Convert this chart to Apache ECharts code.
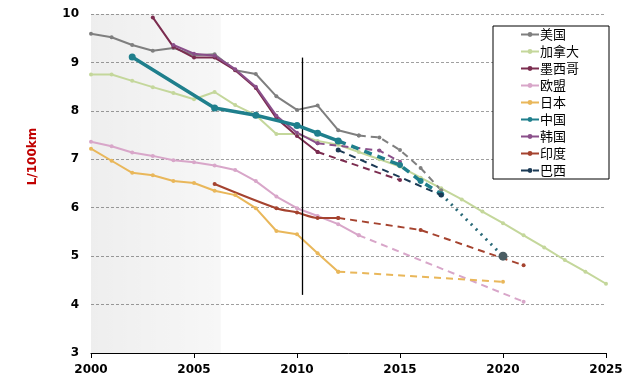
<!DOCTYPE html>
<html><head><meta charset="utf-8">
<script src="https://cdn.jsdelivr.net/npm/echarts@6/dist/echarts.min.js"></script>
<style>html,body{margin:0;padding:0;background:#fff}#c{width:631px;height:389px}</style>
</head><body><div id="c"></div>
<script>
// ---- data ----
const xTicks = [2000, 2005, 2010, 2015, 2020, 2025];
const usSolid = [[2000,9.59],[2001,9.52],[2002,9.36],[2003,9.24],[2004,9.30],[2005,9.15],[2006,9.17],[2007,8.84],[2008,8.76],[2009,8.30],[2010,8.02],[2011,8.11],[2012,7.60],[2013,7.49]];
const usDash = [[2013,7.49],[2014,7.45],[2015,7.19],[2016,6.82],[2017,6.36]];
const canada = [[2000,8.75],[2001,8.75],[2002,8.62],[2003,8.49],[2004,8.37],[2005,8.24],[2006,8.39],[2007,8.12],[2008,7.91],[2009,7.52],[2010,7.52],[2011,7.38],[2012,7.30],[2013,7.15],[2014,7.00],[2015,6.85],[2016,6.62],[2017,6.40],[2018,6.17],[2019,5.92],[2020,5.68],[2021,5.43],[2022,5.18],[2023,4.92],[2024,4.68],[2025,4.43]];
const mexicoSolid = [[2003,9.93],[2004,9.32],[2005,9.10],[2006,9.10],[2007,8.84],[2008,8.47],[2009,7.85],[2010,7.48],[2011,7.15]];
const mexicoDash = [[2011,7.15],[2015,6.57]];
const euSolid = [[2000,7.36],[2001,7.27],[2002,7.14],[2003,7.07],[2004,6.98],[2005,6.94],[2006,6.87],[2007,6.78],[2008,6.55],[2009,6.23],[2010,5.99],[2011,5.83],[2012,5.66],[2013,5.43]];
const euDash = [[2013,5.43],[2021,4.06]];
const japanSolid = [[2000,7.22],[2001,6.97],[2002,6.72],[2003,6.67],[2004,6.55],[2005,6.51],[2006,6.35],[2007,6.26],[2008,5.99],[2009,5.52],[2010,5.45],[2011,5.06],[2012,4.68]];
const japanDash = [[2012,4.68],[2020,4.47]];
const chinaSolid = [[2002,9.11],[2006,8.06],[2008,7.91],[2010,7.70],[2011,7.54],[2012,7.38]];
const chinaDash = [[2012,7.38],[2015,6.88],[2016,6.55],[2017,6.28]];
const chinaDot = [[2017,6.28],[2020,5.00]];
const koreaSolid = [[2004,9.36],[2005,9.18],[2006,9.14],[2007,8.86],[2008,8.50],[2009,7.90],[2010,7.55],[2011,7.33]];
const koreaDash = [[2011,7.33],[2014,7.18],[2015,6.95]];
const indiaSolid = [[2006,6.49],[2009,5.99],[2010,5.90],[2011,5.79],[2012,5.79]];
const indiaDash = [[2012,5.79],[2016,5.54],[2021,4.81]];
const brazilDash = [[2012,7.19],[2017,6.26]];
const shadeEnd = 2006.3;
const blackLine = [[2010.25,9.1],[2010.25,4.2]];

const C = {us:'#7f7f7f', ca:'#c4d79b', mx:'#7b2c4f', eu:'#d8a6c9', jp:'#e9b75a', cn:'#1f7f8c', kr:'#8a4f8a', in:'#a5432f', br:'#1b3a55'};

function line(name, data, color, opt) {
  opt = opt || {};
  return {
    type:'line', name:name, data:data, color:color,
    symbol:'circle', symbolSize: opt.size || 4, showSymbol:true,
    lineStyle:{color:color, width: opt.width || 2, type: opt.type || 'solid'},
    itemStyle:{color: opt.itemColor || color},
    smooth: opt.smooth || false,
    z: opt.z || 2, silent:true, animation:false
  };
}

const series = [
  line('美国', usSolid, C.us),
  line('加拿大', canada, C.ca),
  line('墨西哥', mexicoSolid, C.mx),
  line('欧盟', euSolid, C.eu),
  line('日本', japanSolid, C.jp),
  line('中国', chinaSolid, C.cn, {width:3.5, size:7, z:5}),
  line('韩国', koreaSolid, C.kr),
  line('印度', indiaSolid, C.in, {smooth:0.3}),
  line('巴西', brazilDash, C.br, {type:[7,5], size:5, z:6}),
  line('美国', usDash, C.us, {type:[7,5]}),
  line('墨西哥', mexicoDash, C.mx, {type:[7,5]}),
  line('欧盟', euDash, C.eu, {type:[7,5]}),
  line('日本', japanDash, C.jp, {type:[7,5]}),
  line('中国', chinaDash, C.cn, {type:[8,6], width:3.5, size:6, z:5}),
  line('中国', chinaDot, '#2b6a78', {type:[2,5], width:3, z:5, itemColor:'#4b5d63',
    size:(v, p) => (p.dataIndex === chinaDot.length - 1 ? 9 : 0)}),
  line('韩国', koreaDash, C.kr, {type:[7,5]}),
  line('印度', indiaDash, C.in, {type:[7,5]})
];
// shaded region + reference lines
series.push({
  type:'line', data:[], silent:true, animation:false,
  markArea:{silent:true, itemStyle:{color:{type:'linear',x:0,y:0,x2:1,y2:0,colorStops:[{offset:0,color:'rgba(0,0,0,0.065)'},{offset:1,color:'rgba(0,0,0,0.03)'}]}},
    data:[[{xAxis:2000, yAxis:3},{xAxis:shadeEnd, yAxis:10.27}]]},
  markLine:{silent:true, symbol:'none', label:{show:false}, animation:false,
    data:[
      [{coord:[shadeEnd,3], lineStyle:{color:'#c0c0c0', width:1, type:'solid'}},{coord:[shadeEnd,10.27]}],
      [{coord:blackLine[0], lineStyle:{color:'#000', width:1.3, type:'solid'}},{coord:blackLine[1]}]
    ]}
});

const chart = echarts.init(document.getElementById('c'), null, {renderer:'canvas'});
chart.setOption({
  backgroundColor:'#ffffff',
  animation:false,
  grid:{left:91, right:25, top:14, bottom:36, containLabel:false, outerBoundsMode:'none'},
  legend:{
    orient:'vertical', left:493, top:26,
    padding:[2,30,2,27], itemGap:4, itemWidth:18, itemHeight:6,
    borderColor:'#000', borderWidth:1, backgroundColor:'#fff',
    textStyle:{fontSize:13, color:'#000', fontFamily:'Noto Sans CJK SC', padding:[0,0,0,-4], lineHeight:13},
    data:['美国','加拿大','墨西哥','欧盟','日本','中国','韩国','印度','巴西']
  },
  xAxis:{type:'value', min:2000, max:2025, interval:5,
    axisLine:{show:true, lineStyle:{color:'#000', width:1}},
    axisTick:{show:true, length:5, lineStyle:{color:'#000'}},
    splitLine:{show:false},
    axisLabel:{color:'#000', fontWeight:'bold', fontSize:12, fontFamily:'DejaVu Sans', margin:11, formatter:v=>String(v)}
  },
  yAxis:{type:'value', min:3, max:10, interval:1,
    name:'L/100km', nameLocation:'middle', nameGap:52, nameRotate:90,
    nameTextStyle:{color:'#c00000', fontWeight:'bold', fontSize:12, fontFamily:'DejaVu Sans', padding:[0,0,0,54]},
    axisLine:{show:false}, axisTick:{show:false},
    splitLine:{show:true, lineStyle:{color:'#a0a0a0', type:[3,2], width:1}},
    axisLabel:{color:'#000', fontWeight:'bold', fontSize:12, fontFamily:'DejaVu Sans', margin:12}
  },
  series:series
});
</script></body></html>
